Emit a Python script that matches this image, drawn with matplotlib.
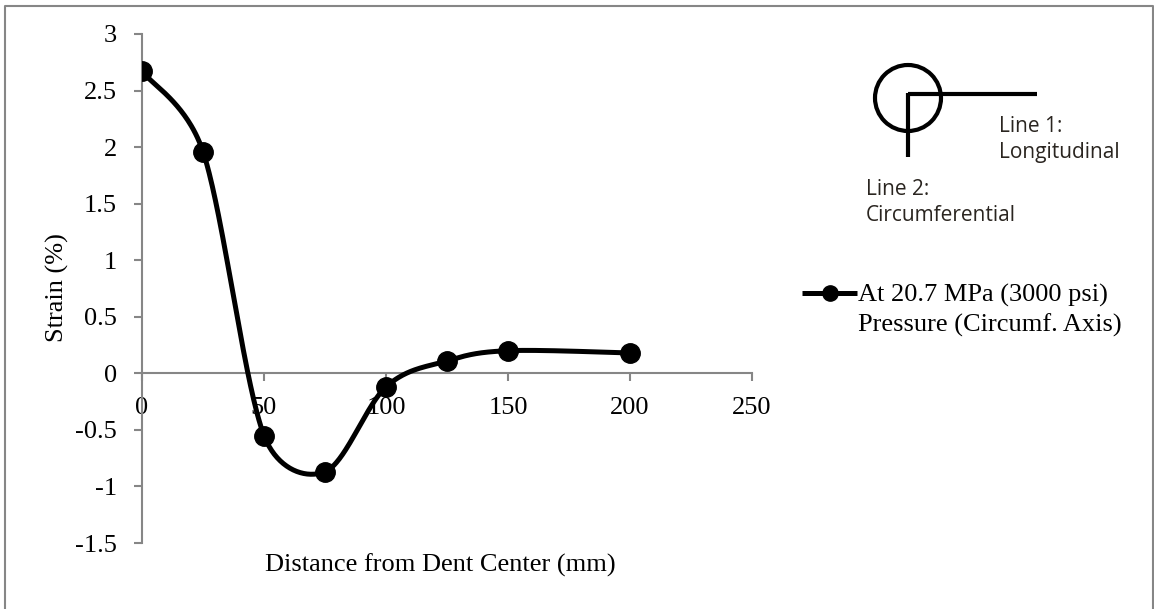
import numpy as np
import matplotlib
matplotlib.use("Agg")
import matplotlib.pyplot as plt
from matplotlib.patches import Circle

# strain along the circumferential axis, measured from the dent centre
distance = [0, 25, 50, 75, 100, 125, 150, 200]
strain = [2.67, 1.96, -0.55, -0.87, -0.12, 0.11, 0.20, 0.18]

x_ticks = [0, 50, 100, 150, 200, 250]
y_ticks = [-1.5, -1, -0.5, 0, 0.5, 1, 1.5, 2, 2.5, 3]
series_label = ["At 20.7 MPa (3000 psi)", "Pressure (Circumf. Axis)"]

plt.rcParams['font.family'] = ['Liberation Serif', 'DejaVu Serif']
GRAY = '#868686'
FS = 19

W, H = 1154, 609
fig = plt.figure(figsize=(W / 100, H / 100), dpi=100)
ax = fig.add_axes([142 / W, 1 - 543 / H, 610 / W, 509 / H])
ax.set_xlim(0, 250)
ax.set_ylim(-1.5, 3)


def smooth(xs, ys, kx, ky, n=60):
    # bezier smoothing through each point; control arms are (next - prev) / 6,
    # capped at half the segment length (worked out in pixel space)
    p = np.column_stack([np.asarray(xs) * kx, np.asarray(ys) * ky]).astype(float)
    q = np.vstack([p[0], p, p[-1]])
    out = []
    for i in range(1, len(q) - 2):
        half = np.linalg.norm(q[i + 1] - q[i]) / 2
        a = (q[i + 1] - q[i - 1]) / 6
        b = (q[i + 2] - q[i]) / 6
        if np.linalg.norm(a) > half:
            a = a / np.linalg.norm(a) * half
        if np.linalg.norm(b) > half:
            b = b / np.linalg.norm(b) * half
        c1 = q[i] + a
        c2 = q[i + 1] - b
        t = np.linspace(0, 1, n)[:, None]
        seg = ((1 - t) ** 3 * q[i] + 3 * (1 - t) ** 2 * t * c1
               + 3 * (1 - t) * t ** 2 * c2 + t ** 3 * q[i + 1])
        out.append(seg)
    out = np.vstack(out)
    return out[:, 0] / kx, out[:, 1] / ky


kx = 610 / 250
ky = 509 / 4.5
cx, cy = smooth(distance, strain, kx, ky)
ax.plot(cx, cy, color='black', lw=3.6, solid_capstyle='round', zorder=3)
ax.plot(distance, strain, 'o', color='black', ms=14, zorder=4)

ax.set_xticks(x_ticks)
ax.set_yticks(y_ticks)
ax.set_xticklabels([str(v) for v in x_ticks])
ax.set_yticklabels([f'{v:g}' for v in y_ticks])

for s in ['top', 'right']:
    ax.spines[s].set_visible(False)
ax.spines['bottom'].set_position(('data', 0))
for s in ['left', 'bottom']:
    ax.spines[s].set_color(GRAY)
    ax.spines[s].set_linewidth(1.5)
ax.tick_params(axis='both', colors=GRAY, length=6, width=1.5, labelcolor='black',
               labelsize=FS)
ax.tick_params(axis='y', pad=12)
ax.tick_params(axis='x', pad=11)

fig.text(57 / W, 1 - 288 / H, 'Strain (%)', rotation=90, ha='center', va='center',
         fontsize=FS)
fig.text(440 / W, 1 - 565 / H, 'Distance from Dent Center (mm)', ha='center',
         va='center', fontsize=FS)

# overlay in pixel space for the legend entry and the axis sketch
ov = fig.add_axes([0, 0, 1, 1])
ov.set_xlim(0, W)
ov.set_ylim(H, 0)
ov.axis('off')

ov.plot([802, 857], [293, 293], color='black', lw=3.6, solid_capstyle='butt')
ov.plot([829.5], [293], 'o', color='black', ms=11)
ov.text(858, 295, series_label[0], fontsize=FS, ha='left', va='center')
ov.text(858, 325, series_label[1], fontsize=FS, ha='left', va='center')

ov.add_patch(Circle((908, 98), 33, fill=False, ec='black', lw=3))
ov.plot([908, 1037], [94, 94], color='black', lw=3, solid_capstyle='butt')
ov.plot([908, 908], [92.5, 157], color='black', lw=3, solid_capstyle='butt')
txt_kw = dict(fontsize=15, family=['Open Sans', 'DejaVu Sans'], color='#2a2520',
              va='top', ha='left', linespacing=1.3)
ov.text(999, 116, 'Line 1:\nLongitudinal', **txt_kw)
ov.text(866, 179, 'Line 2:\nCircumferential', **txt_kw)

# outer chart frame (bottom edge falls off the canvas)
ov.plot([4.5, 4.5, 1152.5, 1152.5], [H + 5, 5.5, 5.5, H + 5], color=GRAY, lw=1.5)

fig.savefig('out.png', dpi=100)
